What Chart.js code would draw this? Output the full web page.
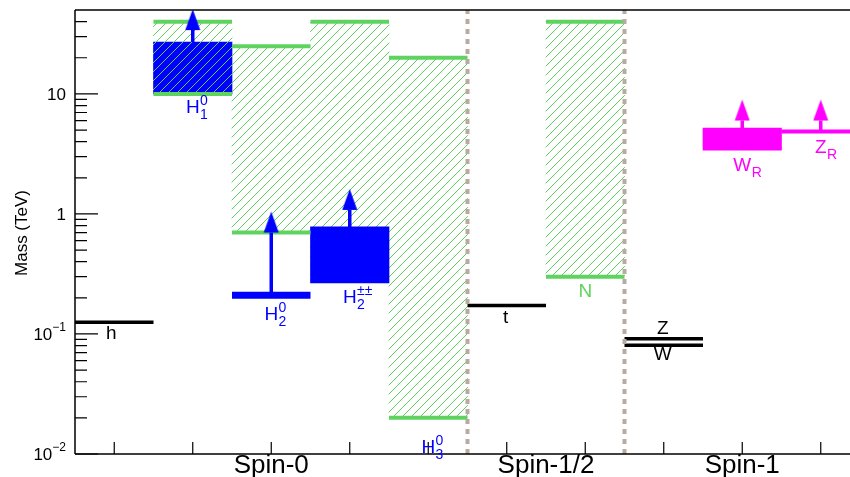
<!DOCTYPE html>
<html>
<head>
<meta charset="utf-8">
<script src="https://cdn.jsdelivr.net/npm/chart.js@4"></script>
<style>
  html, body { margin: 0; padding: 0; overflow: hidden; background: #fff; }
  #wrap { width: 860px; height: 477px; }
</style>
</head>
<body>
<div id="wrap"><canvas id="chart"></canvas></div>
<script>
const FONT = '"Liberation Sans", Arial, Helvetica, sans-serif';
const BLUE = '#0000ff';
const MAGENTA = '#ff00ff';
const GREEN = '#5fd35f';
const HATCH = '#5ccf5c';

// one column per state
const bins = ['h', 'H1', 'H2', 'H2pp', 'H3', 't', 'N', 'ZW', 'WR', 'ZR'];
const groups = [
    { label: 'Spin-0', from: 0, to: 5 },
    { label: 'Spin-1/2', from: 5, to: 7 },
    { label: 'Spin-1', from: 7, to: 10 }
];
// column boundaries with a dotted separator
const separators = [5, 7];

// hatched ranges [low, high] in TeV
const hatchRange = [null, [10, 40], [0.7, 25], [0.27, 40], [0.02, 20], null, [0.3, 40], null, null, null];
// green edges on the hatched ranges [column, mass]
const greenEdges = [[1, 10], [1, 40], [2, 0.7], [2, 25], [3, 40], [4, 0.02], [4, 20], [6, 0.3], [6, 40]];
// filled boxes
const blueBox = [null, [10, 27], null, [0.266, 0.78], null, null, null, null, null, null];
const magentaBox = [null, null, null, null, null, null, null, null, [3.4, 5.2], null];
// single mass values [column, mass]
const smLevels = [[0, 0.125], [5, 0.173], [7, 0.0912], [7, 0.0804]];
const blueLevels = [[2, 0.21]];
const magentaLevels = [[9, 4.85]];
// lower limit arrows [column, from, head]
const blueArrows = [[1, 27, 34], [2, 0.21, 0.70], [3, 0.78, 1.08]];
const magentaArrows = [[8, 5.2, 6.0], [9, 4.85, 6.0]];

// y axis
const yMin = 0.01, yMax = 50;
const yMajor = [0.01, 0.1, 1, 10];
const yMinor = [0.02, 0.03, 0.04, 0.05, 0.06, 0.07, 0.08, 0.09,
    0.2, 0.3, 0.4, 0.5, 0.6, 0.7, 0.8, 0.9,
    2, 3, 4, 5, 6, 7, 8, 9, 20, 30, 40];
const yLabels = [['10', '\u22122'], ['10', '\u22121'], ['1', ''], ['10', '']];

// state names
const stateLabels = [
    { bin: 0, v: 0.125, text: 'h', color: '#000', dx: -3, dy: 17 },
    { bin: 1, v: 10, text: 'H', sub: '1', sup: '0', color: BLUE, dx: 0, dy: 19 },
    { bin: 2, v: 0.21, text: 'H', sub: '2', sup: '0', color: BLUE, dx: 0, dy: 25 },
    { bin: 3, v: 0.266, text: 'H', sub: '2', sup: '\u00b1\u00b1', color: BLUE, dx: 0, dy: 20 },
    { bin: 4, v: 0.02, text: 'H', sub: '3', sup: '0', color: BLUE, dx: 0, dy: 35 },
    { bin: 5, v: 0.173, text: 't', color: '#000', dx: -1, dy: 18 },
    { bin: 6, v: 0.3, text: 'N', color: GREEN, dx: 0, dy: 20 },
    { bin: 7, v: 0.0912, text: 'Z', color: '#000', dx: -1, dy: -5 },
    { bin: 7, v: 0.0804, text: 'W', color: '#000', dx: -1, dy: 15 },
    { bin: 8, v: 3.4, text: 'W', sub: 'R', color: MAGENTA, dx: 0, dy: 21 },
    { bin: 9, v: 4.85, text: 'Z', sub: 'R', color: MAGENTA, dx: 0, dy: 21 }
];

const mainCtx = document.getElementById('chart').getContext('2d');

function hatch(bg) {
    const c = document.createElement('canvas');
    c.width = 9; c.height = 9;
    const g = c.getContext('2d');
    if (bg) { g.fillStyle = bg; g.fillRect(0, 0, 9, 9); }
    g.strokeStyle = HATCH;
    g.lineWidth = 1;
    g.beginPath();
    g.moveTo(-1, 10); g.lineTo(10, -1);
    g.moveTo(-1, 1); g.lineTo(1, -1);
    g.moveTo(8, 10); g.lineTo(10, 8);
    g.stroke();
    return mainCtx.createPattern(c, 'repeat');
}

function arrowHead(color) {
    const c = document.createElement('canvas');
    c.width = 16; c.height = 44;
    const g = c.getContext('2d');
    g.fillStyle = color;
    g.beginPath();
    g.moveTo(8, 1); g.lineTo(15.5, 22); g.lineTo(0.5, 22);
    g.closePath();
    g.fill();
    return c;
}

function segments(list) {
    const pts = [];
    list.forEach(([bin, v]) => pts.push({ x: bin, y: v }, { x: bin + 1, y: v }, { x: bin + 1, y: null }));
    return pts;
}

function arrows(list) {
    const pts = [];
    list.forEach(([bin, from, to]) => pts.push({ x: bin + 0.5, y: from }, { x: bin + 0.5, y: to }, { x: bin + 0.5, y: null }));
    return pts;
}

function lineSet(data, color, width, order, extra) {
    return Object.assign({
        type: 'line', xAxisID: 'xl', data: data, borderColor: color, borderWidth: width,
        pointRadius: 0, spanGaps: false, fill: false, order: order, borderCapStyle: 'butt'
    }, extra || {});
}

function arrowSet(list, color) {
    const head = arrowHead(color);
    return lineSet(arrows(list), color, 3.5, 1, {
        pointStyle: head,
        pointRadius: ctx => ctx.dataIndex % 3 === 1 ? 8 : 0,
        pointBackgroundColor: color, pointBorderWidth: 0
    });
}

function drawScripted(ctx, x, y, l) {
    ctx.fillStyle = l.color;
    ctx.textBaseline = 'alphabetic';
    ctx.font = `19px ${FONT}`;
    const w = ctx.measureText(l.text).width;
    ctx.textAlign = 'left';
    const x0 = x - w / 2;
    ctx.fillText(l.text, x0, y);
    ctx.font = `14px ${FONT}`;
    if (l.sup) ctx.fillText(l.sup, x0 + w + 0.5, y - 8);
    if (l.sub) ctx.fillText(l.sub, x0 + w + 0.5, y + 6);
}

const decor = {
    id: 'decor',
    afterDatasetsDraw(chart) {
        const { ctx, chartArea: a, scales: { y, xl } } = chart;
        ctx.save();
        ctx.strokeStyle = '#000';
        ctx.lineWidth = 1.5;
        ctx.beginPath();
        ctx.moveTo(a.left, a.top); ctx.lineTo(a.right, a.top);
        ctx.moveTo(a.left, a.top); ctx.lineTo(a.left, a.bottom);
        ctx.moveTo(a.left, a.bottom); ctx.lineTo(a.right, a.bottom);
        ctx.stroke();

        // ticks, drawn inside the frame
        ctx.lineWidth = 1.2;
        ctx.beginPath();
        yMajor.forEach(v => { const p = y.getPixelForValue(v); ctx.moveTo(a.left, p); ctx.lineTo(a.left + 23, p); });
        yMinor.forEach(v => { const p = y.getPixelForValue(v); ctx.moveTo(a.left, p); ctx.lineTo(a.left + 12, p); });
        bins.forEach((b, i) => { const p = xl.getPixelForValue(i + 0.5); ctx.moveTo(p, a.bottom); ctx.lineTo(p, a.bottom - 12); });
        ctx.stroke();

        // y tick labels
        ctx.fillStyle = '#000';
        ctx.textBaseline = 'middle';
        yMajor.forEach((v, i) => {
            const p = y.getPixelForValue(v);
            const [base, exp] = yLabels[i];
            ctx.font = `12px ${FONT}`;
            const we = exp ? ctx.measureText(exp).width : 0;
            ctx.textAlign = 'right';
            if (exp) ctx.fillText(exp, a.left - 9, p - 6);
            ctx.font = `17px ${FONT}`;
            ctx.fillText(base, a.left - 9 - we, p + 1);
        });

        // y title
        ctx.save();
        ctx.translate(27, 233);
        ctx.rotate(-Math.PI / 2);
        ctx.font = `17px ${FONT}`;
        ctx.textAlign = 'center';
        ctx.textBaseline = 'alphabetic';
        ctx.fillText('Mass (TeV)', 0, 0);
        ctx.restore();

        // group names
        ctx.font = `26px ${FONT}`;
        ctx.textAlign = 'center';
        ctx.textBaseline = 'alphabetic';
        groups.forEach(g => {
            const p = xl.getPixelForValue((g.from + g.to) / 2);
            ctx.fillText(g.label, p, a.bottom + 19);
        });

        // state names
        stateLabels.forEach(l => {
            const px = xl.getPixelForValue(l.bin + 0.5) + l.dx;
            const py = y.getPixelForValue(l.v) + l.dy;
            drawScripted(ctx, px, py, l);
        });
        ctx.restore();
    }
};

const hatchPlain = hatch(null);
const hatchBlue = hatch(BLUE);

new Chart(mainCtx, {
    type: 'bar',
    data: {
        labels: bins,
        datasets: [
            { label: 'allowed', data: hatchRange, backgroundColor: hatchPlain, order: 10 },
            { label: 'blue', data: blueBox, order: 8,
              backgroundColor: ctx => ctx.dataIndex === 1 ? hatchBlue : BLUE },
            { label: 'magenta', data: magentaBox, backgroundColor: MAGENTA, order: 8 },
            lineSet(segments(greenEdges), GREEN, 4, 6),
            lineSet(segments(smLevels), '#000', 3.5, 4),
            lineSet(segments(blueLevels), BLUE, 7, 4),
            lineSet(segments(magentaLevels), MAGENTA, 4, 4),
            lineSet(separators.flatMap(s => [{ x: s, y: yMin }, { x: s, y: yMax }, { x: s, y: null }]),
                'rgb(185,170,160)', 4, 2, { borderDash: [5, 5] }),
            arrowSet(blueArrows, BLUE),
            arrowSet(magentaArrows, MAGENTA)
        ]
    },
    options: {
        responsive: true,
        maintainAspectRatio: false,
        animation: false,
        events: [],
        layout: { padding: { left: 75, top: 10, right: 0, bottom: 23 } },
        datasets: { bar: { grouped: false, categoryPercentage: 1, barPercentage: 1, borderWidth: 0 } },
        scales: {
            x: { type: 'category', offset: true, display: false },
            xl: { type: 'linear', min: 0, max: 10, offset: false, display: false },
            y: { type: 'logarithmic', min: yMin, max: yMax, display: false }
        },
        plugins: { legend: { display: false }, tooltip: { enabled: false } }
    },
    plugins: [decor]
});
</script>
</body>
</html>
